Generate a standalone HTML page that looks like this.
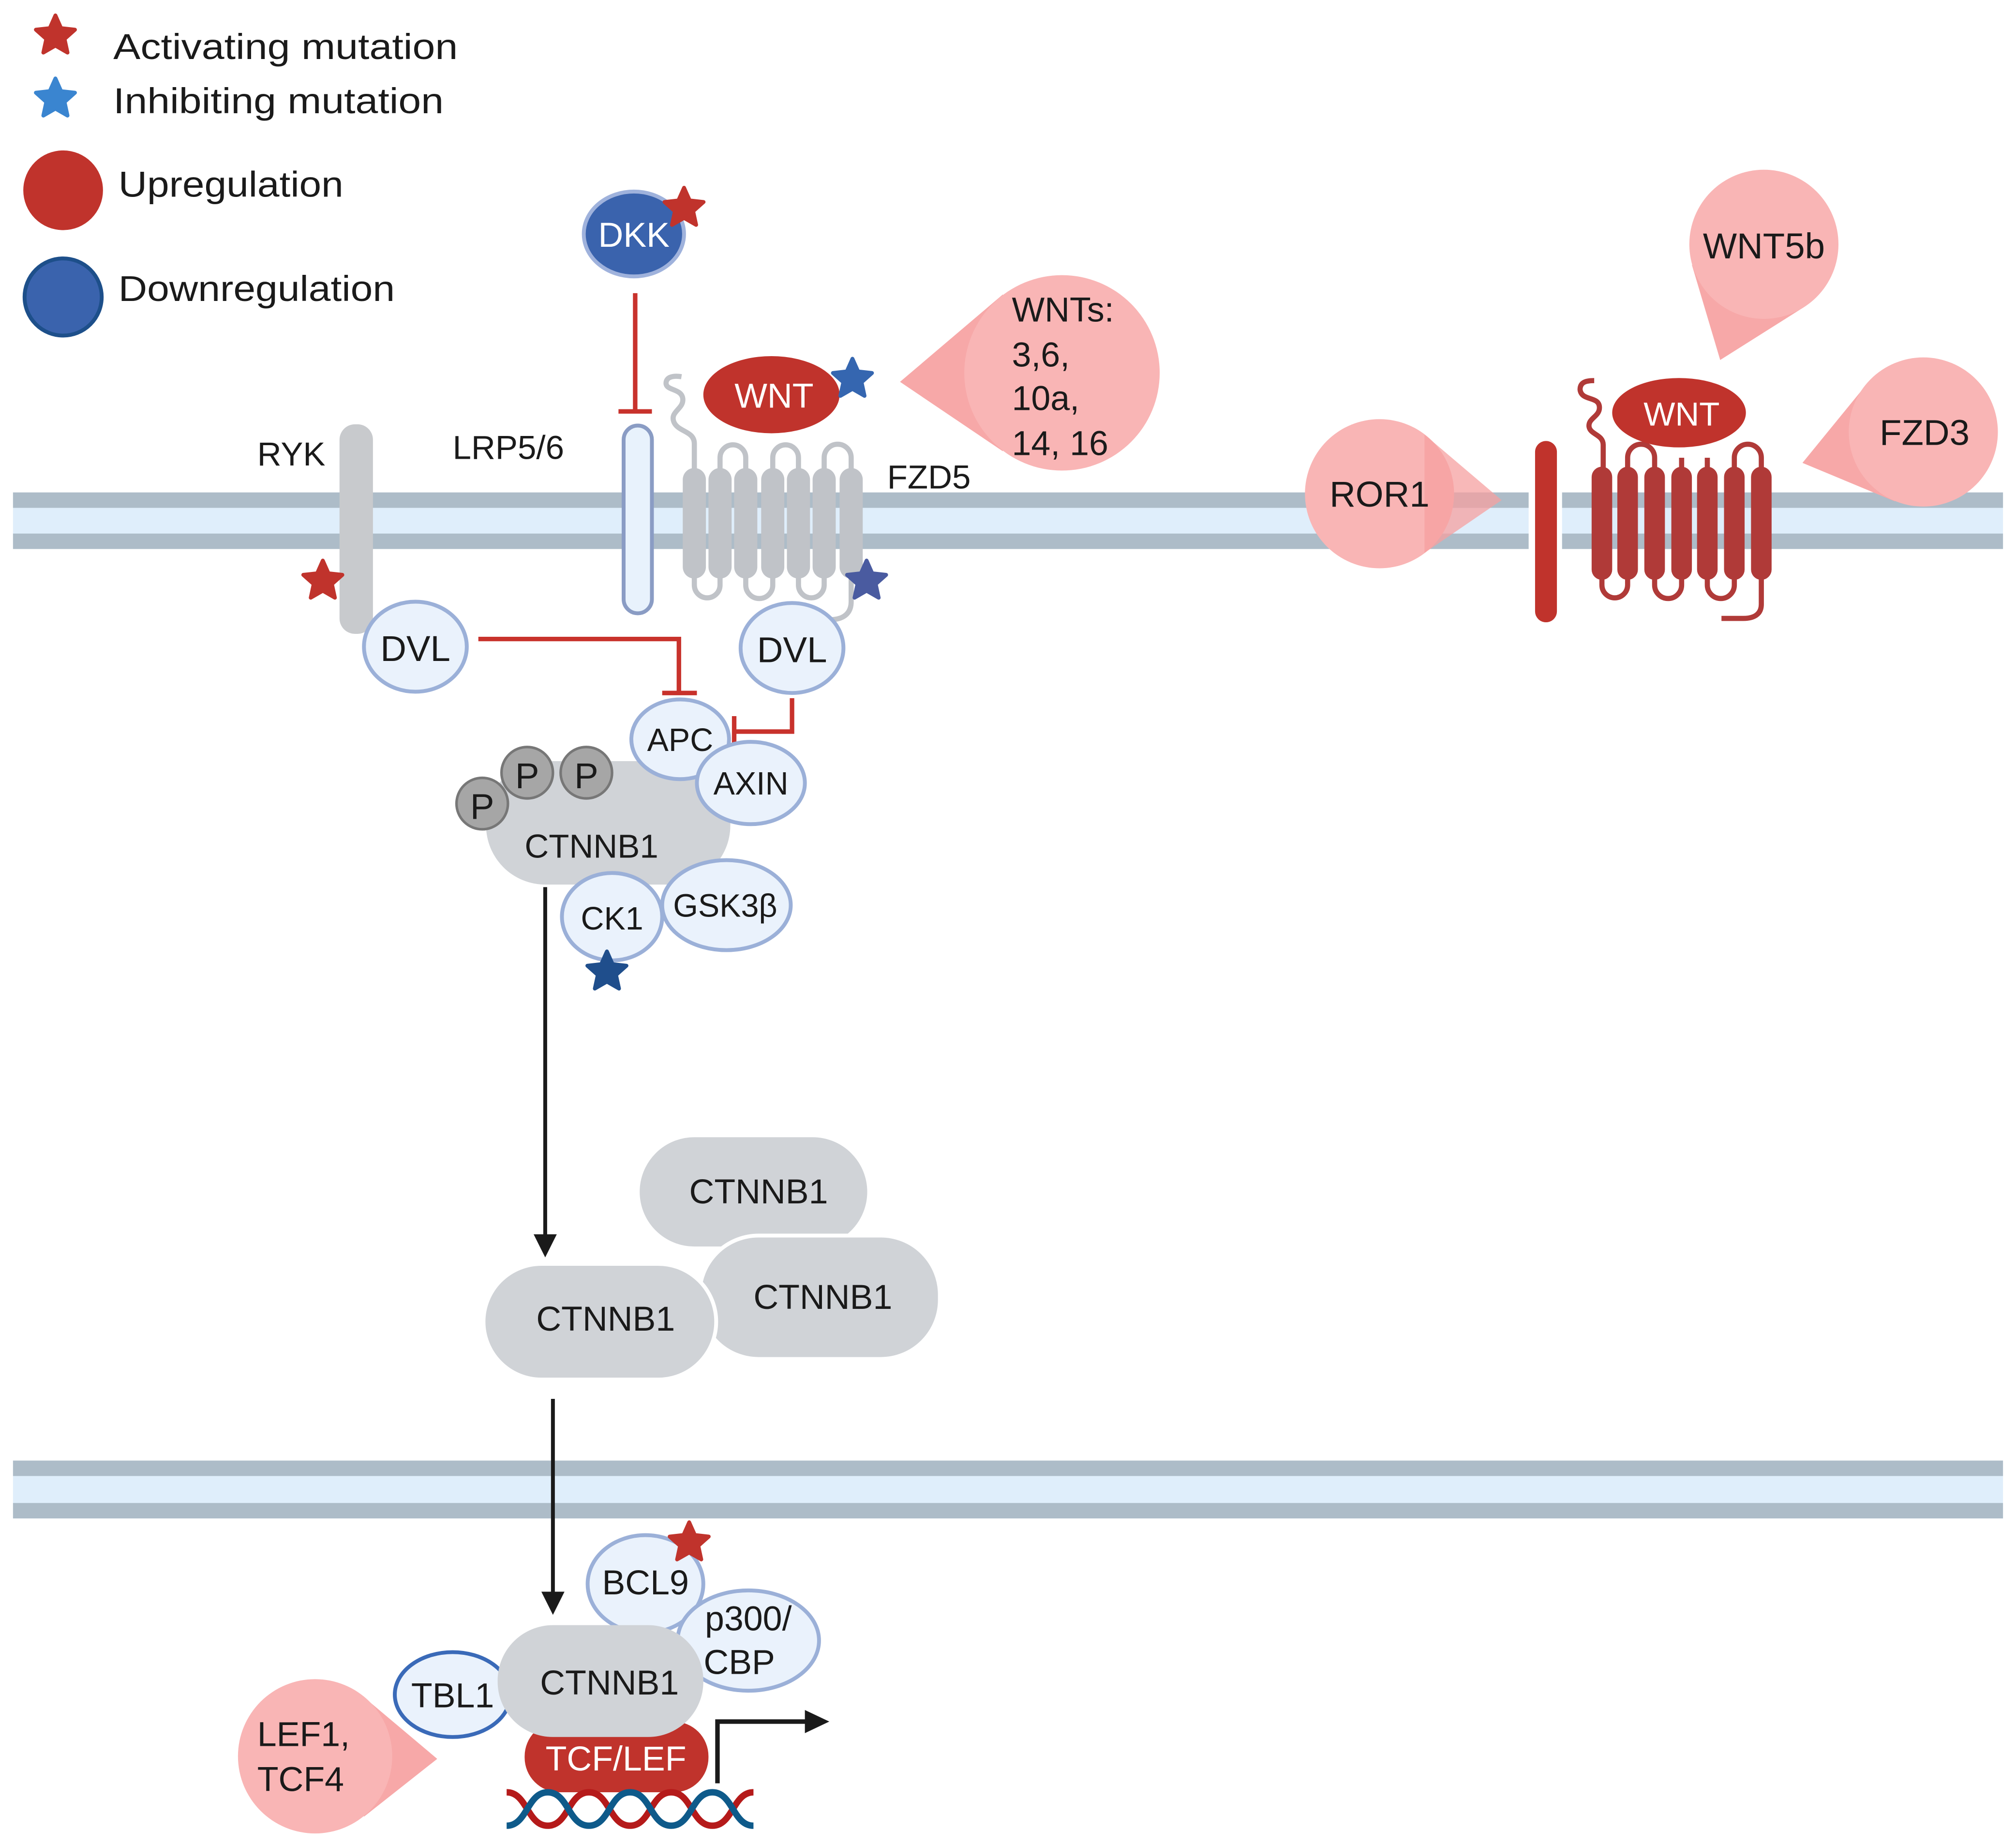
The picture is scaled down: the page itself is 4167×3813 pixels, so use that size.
<!DOCTYPE html>
<html><head><meta charset="utf-8"><style>html,body{margin:0;padding:0;background:#fff}svg{display:block}text{font-family:"Liberation Sans",sans-serif;fill:#1a1a1a}</style></head><body>
<svg width="4167" height="3813" viewBox="0 0 1568 1435" xmlns="http://www.w3.org/2000/svg">
<defs>
<polygon id="st" points="0,-16 4.4,-6.1 15.2,-4.9 7.1,2.3 9.4,12.9 0,7.5 -9.4,12.9 -7.1,2.3 -15.2,-4.9 -4.4,-6.1" stroke-linejoin="round" stroke-width="3"/>
</defs>
<rect width="1568" height="1435" fill="#fff"/>

<!-- membranes -->
<rect x="10" y="383" width="1548" height="44" fill="#dfeefb"/>
<rect x="10" y="383" width="1548" height="12" fill="#adbcc8"/>
<rect x="10" y="415" width="1548" height="12" fill="#adbcc8"/>
<rect x="1189" y="380" width="26" height="50" fill="#fff"/>
<rect x="10" y="1136" width="1548" height="45" fill="#dfeefb"/>
<rect x="10" y="1136" width="1548" height="12" fill="#adbcc8"/>
<rect x="10" y="1169" width="1548" height="12" fill="#adbcc8"/>

<!-- legend -->
<use href="#st" x="43" y="28" fill="#c0332c" stroke="#c0332c"/>
<text x="88" y="46" font-size="28" textLength="268" lengthAdjust="spacingAndGlyphs">Activating mutation</text>
<use href="#st" x="43" y="77" fill="#3a85d0" stroke="#3a85d0"/>
<text x="88" y="88" font-size="28" textLength="257" lengthAdjust="spacingAndGlyphs">Inhibiting mutation</text>
<ellipse cx="49" cy="148" rx="31" ry="31" fill="#c0332c"/>
<text x="92" y="153" font-size="28" textLength="175" lengthAdjust="spacingAndGlyphs">Upregulation</text>
<ellipse cx="49" cy="231" rx="30" ry="30" fill="#3a63ad" stroke="#1d4f8a" stroke-width="3"/>
<text x="92" y="234" font-size="28" textLength="215" lengthAdjust="spacingAndGlyphs">Downregulation</text>

<!-- DKK -->
<ellipse cx="493" cy="182" rx="39" ry="33" fill="#3a63ad" stroke="#9fb2dc" stroke-width="3"/>
<text x="493" y="192" font-size="27" text-anchor="middle" style="fill:#fff">DKK</text>
<use href="#st" x="532" y="162" fill="#c0332c" stroke="#c0332c"/>
<path d="M494,228 V320 M481,320 H507" stroke="#c8322c" stroke-width="3.5" fill="none"/>

<!-- RYK -->
<rect x="264" y="330" width="26" height="163" rx="12" fill="#c8cacd"/>
<text x="200" y="362" font-size="26">RYK</text>
<use href="#st" x="251" y="452" fill="#c0332c" stroke="#c0332c"/>

<!-- LRP -->
<text x="352" y="357" font-size="26">LRP5/6</text>
<rect x="485" y="331" width="22" height="146" rx="11" fill="#e8f2fc" stroke="#8a9cc4" stroke-width="3"/>

<!-- FZD5 -->
<g stroke="#c0c3c8" stroke-width="4" fill="none">
<path d="M540,366 V345 C540,335 527,336 524,328 C521,320 532,318 531,310 C530,302 518,304 518,298 C518,293 524,292 530,293"/>
<path d="M560,366 V356 A10,10 0 0 1 580,356 V366"/>
<path d="M601,366 V356 A10,10 0 0 1 621,356 V366"/>
<path d="M641,366 V356 A10,10 0 0 1 662,356 V366"/>
<path d="M540,446 V455 A10,10 0 0 0 560,455 V446"/>
<path d="M580,446 V455 A10,10 0 0 0 601,455 V446"/>
<path d="M621,446 V455 A10,10 0 0 0 641,455 V446"/>
<path d="M662,446 V468 C662,478 655,482 645,482"/>
</g>
<g fill="#c0c3c8">
<rect x="531" y="364" width="18" height="86" rx="9"/>
<rect x="551" y="364" width="18" height="86" rx="9"/>
<rect x="571" y="364" width="18" height="86" rx="9"/>
<rect x="592" y="364" width="18" height="86" rx="9"/>
<rect x="612" y="364" width="18" height="86" rx="9"/>
<rect x="632" y="364" width="18" height="86" rx="9"/>
<rect x="653" y="364" width="18" height="86" rx="9"/>
</g>
<use href="#st" x="674" y="452" fill="#4a5ba0" stroke="#4a5ba0"/>
<text x="690" y="380" font-size="26">FZD5</text>
<ellipse cx="600" cy="307" rx="53" ry="30" fill="#c0332c"/>
<text x="602" y="317" font-size="27" text-anchor="middle" style="fill:#fff">WNT</text>
<use href="#st" x="663" y="295" fill="#3566b0" stroke="#3566b0"/>

<!-- WNTs callout -->
<polygon points="700,297 780,229 780,351" fill="#f7a8a8"/>
<circle cx="826" cy="290" r="76" fill="#f9b5b5"/>
<text x="787" y="250" font-size="27">WNTs:</text>
<text x="787" y="285" font-size="27">3,6,</text>
<text x="787" y="319" font-size="27">10a,</text>
<text x="787" y="354" font-size="27">14, 16</text>

<!-- DVLs -->
<ellipse cx="323" cy="503" rx="40" ry="35" fill="#eaf2fc" stroke="#9bb0d8" stroke-width="3"/>
<text x="323" y="514" font-size="28" text-anchor="middle">DVL</text>
<ellipse cx="616" cy="504" rx="40" ry="35" fill="#eaf2fc" stroke="#9bb0d8" stroke-width="3"/>
<text x="616" y="515" font-size="28" text-anchor="middle">DVL</text>
<path d="M372,497 H528 V538 M515,539 H542" stroke="#c8322c" stroke-width="3.5" fill="none"/>
<path d="M616,543 V569 H571 M571,557 V584" stroke="#c8322c" stroke-width="3.5" fill="none"/>

<!-- destruction complex -->
<rect x="378" y="592" width="190" height="96" rx="46" fill="#d0d3d7"/>
<text x="460" y="667" font-size="26" text-anchor="middle">CTNNB1</text>
<g fill="#a6a6a6" stroke="#777" stroke-width="2">
<circle cx="375" cy="625" r="20"/><circle cx="410" cy="601" r="20"/><circle cx="456" cy="601" r="20"/>
</g>
<text x="375" y="637" font-size="28" text-anchor="middle">P</text>
<text x="410" y="613" font-size="28" text-anchor="middle">P</text>
<text x="456" y="613" font-size="28" text-anchor="middle">P</text>
<ellipse cx="529" cy="575" rx="38" ry="31" fill="#eaf2fc" stroke="#9bb0d8" stroke-width="3"/>
<text x="529" y="584" font-size="25" text-anchor="middle">APC</text>
<ellipse cx="584" cy="609" rx="42" ry="32" fill="#eaf2fc" stroke="#9bb0d8" stroke-width="3"/>
<text x="584" y="618" font-size="25" text-anchor="middle">AXIN</text>
<ellipse cx="565" cy="704" rx="50" ry="35" fill="#eaf2fc" stroke="#9bb0d8" stroke-width="3"/>
<text x="564" y="713" font-size="25" text-anchor="middle">GSK3β</text>
<ellipse cx="476" cy="713" rx="39" ry="34" fill="#eaf2fc" stroke="#9bb0d8" stroke-width="3"/>
<text x="476" y="723" font-size="25" text-anchor="middle">CK1</text>
<use href="#st" x="472" y="756" fill="#1f4e8c" stroke="#1f4e8c"/>

<!-- arrow 1 -->
<path d="M424,690 V962" stroke="#1a1a1a" stroke-width="3"/>
<polygon points="415,960 433,960 424,978" fill="#1a1a1a"/>

<!-- cytoplasmic CTNNB1 -->
<g fill="#d0d3d7" stroke="#fff" stroke-width="3">
<rect x="496" y="883" width="180" height="88" rx="44"/>
<rect x="544" y="961" width="187" height="96" rx="46"/>
<rect x="376" y="983" width="181" height="90" rx="45"/>
</g>
<text x="590" y="936" font-size="27" text-anchor="middle">CTNNB1</text>
<text x="640" y="1018" font-size="27" text-anchor="middle">CTNNB1</text>
<text x="471" y="1035" font-size="27" text-anchor="middle">CTNNB1</text>

<!-- arrow 2 -->
<path d="M430,1088 V1240" stroke="#1a1a1a" stroke-width="3"/>
<polygon points="421,1238 439,1238 430,1256" fill="#1a1a1a"/>

<!-- nuclear -->
<ellipse cx="502" cy="1232" rx="45" ry="38" fill="#eaf2fc" stroke="#9bb0d8" stroke-width="3"/>
<text x="502" y="1240" font-size="27" text-anchor="middle">BCL9</text>
<use href="#st" x="536" y="1200" fill="#c0332c" stroke="#c0332c"/>
<ellipse cx="582" cy="1276" rx="55" ry="39" fill="#eaf2fc" stroke="#9bb0d8" stroke-width="3"/>
<text x="582" y="1268" font-size="27" text-anchor="middle">p300/</text>
<text x="575" y="1302" font-size="27" text-anchor="middle">CBP</text>
<ellipse cx="352" cy="1318" rx="45" ry="33" fill="#eaf2fc" stroke="#3a6ab8" stroke-width="3"/>
<text x="352" y="1328" font-size="27" text-anchor="middle">TBL1</text>
<rect x="408" y="1339" width="143" height="55" rx="27" fill="#c0332c"/>
<text x="479" y="1377" font-size="27" text-anchor="middle" style="fill:#fff">TCF/LEF</text>
<rect x="387" y="1264" width="160" height="87" rx="43" fill="#d0d3d7"/>
<text x="474" y="1318" font-size="27" text-anchor="middle">CTNNB1</text>
<!-- DNA -->
<g fill="none" stroke-width="5">
<path d="M394,1394 C410,1394 410,1420 426,1420 S442,1394 458,1394 S474,1420 490,1420 S506,1394 522,1394 S538,1420 554,1420 S570,1394 586,1394" stroke="#b51a1a"/>
<path d="M394,1420 C410,1420 410,1394 426,1394 S442,1420 458,1420 S474,1394 490,1394 S506,1420 522,1420 S538,1394 554,1394 S570,1420 586,1420" stroke="#0e5a8a"/>
</g>
<path d="M558,1387 V1339 H628" stroke="#1a1a1a" stroke-width="3.5" fill="none"/>
<polygon points="626,1330 645,1339 626,1348" fill="#1a1a1a"/>
<!-- LEF1 callout -->
<polygon points="340,1368 283,1320 283,1413" fill="#f7a8a8"/>
<circle cx="245" cy="1366" r="60" fill="#f9b5b5"/>
<text x="200" y="1358" font-size="27">LEF1,</text>
<text x="200" y="1393" font-size="27">TCF4</text>

<!-- right side -->
<polygon points="1338,280 1316,206 1403,239" fill="#f7a8a8"/>
<circle cx="1372" cy="190" r="58" fill="#f9b5b5"/>
<text x="1372" y="201" font-size="28" text-anchor="middle">WNT5b</text>

<polygon points="1402,360 1451,300 1474,390" fill="#f7a8a8"/>
<circle cx="1496" cy="336" r="58" fill="#f9b5b5"/>
<text x="1497" y="346" font-size="28" text-anchor="middle">FZD3</text>

<circle cx="1073" cy="384" r="58" fill="#f9b5b5"/>
<polygon points="1168,389 1108,338 1108,430" fill="#f5a0a0" opacity="0.75"/>
<text x="1073" y="394" font-size="28" text-anchor="middle">ROR1</text>

<rect x="1194" y="343" width="17" height="141" rx="8.5" fill="#c0332c"/>
<g stroke="#b03a38" stroke-width="4" fill="none">
<path d="M1247,366 V346 C1247,338 1237,338 1236,332 C1235,325 1245,324 1244,316 C1243,308 1230,312 1229,303 C1229,297 1234,296 1240,296"/>
<path d="M1266,366 V356 A10,10 0 0 1 1287,356 V366"/>
<path d="M1308,366 V356 M1328,366 V356"/>
<path d="M1349,366 V356 A10,10 0 0 1 1370,356 V366"/>
<path d="M1246,447 V455 A10,10 0 0 0 1266,455 V447"/>
<path d="M1287,447 V455 A10,10 0 0 0 1308,455 V447"/>
<path d="M1328,447 V455 A10,10 0 0 0 1349,455 V447"/>
<path d="M1370,447 V470 C1370,478 1364,481 1356,481 H1339"/>
</g>
<g fill="#b03a38">
<rect x="1238" y="363" width="16" height="88" rx="8"/>
<rect x="1258" y="363" width="16" height="88" rx="8"/>
<rect x="1279" y="363" width="16" height="88" rx="8"/>
<rect x="1300" y="363" width="16" height="88" rx="8"/>
<rect x="1320" y="363" width="16" height="88" rx="8"/>
<rect x="1341" y="363" width="16" height="88" rx="8"/>
<rect x="1362" y="363" width="16" height="88" rx="8"/>
</g>
<ellipse cx="1306" cy="321" rx="52" ry="27" fill="#c0332c"/>
<text x="1308" y="331" font-size="26" text-anchor="middle" style="fill:#fff">WNT</text>
</svg>
</body></html>
